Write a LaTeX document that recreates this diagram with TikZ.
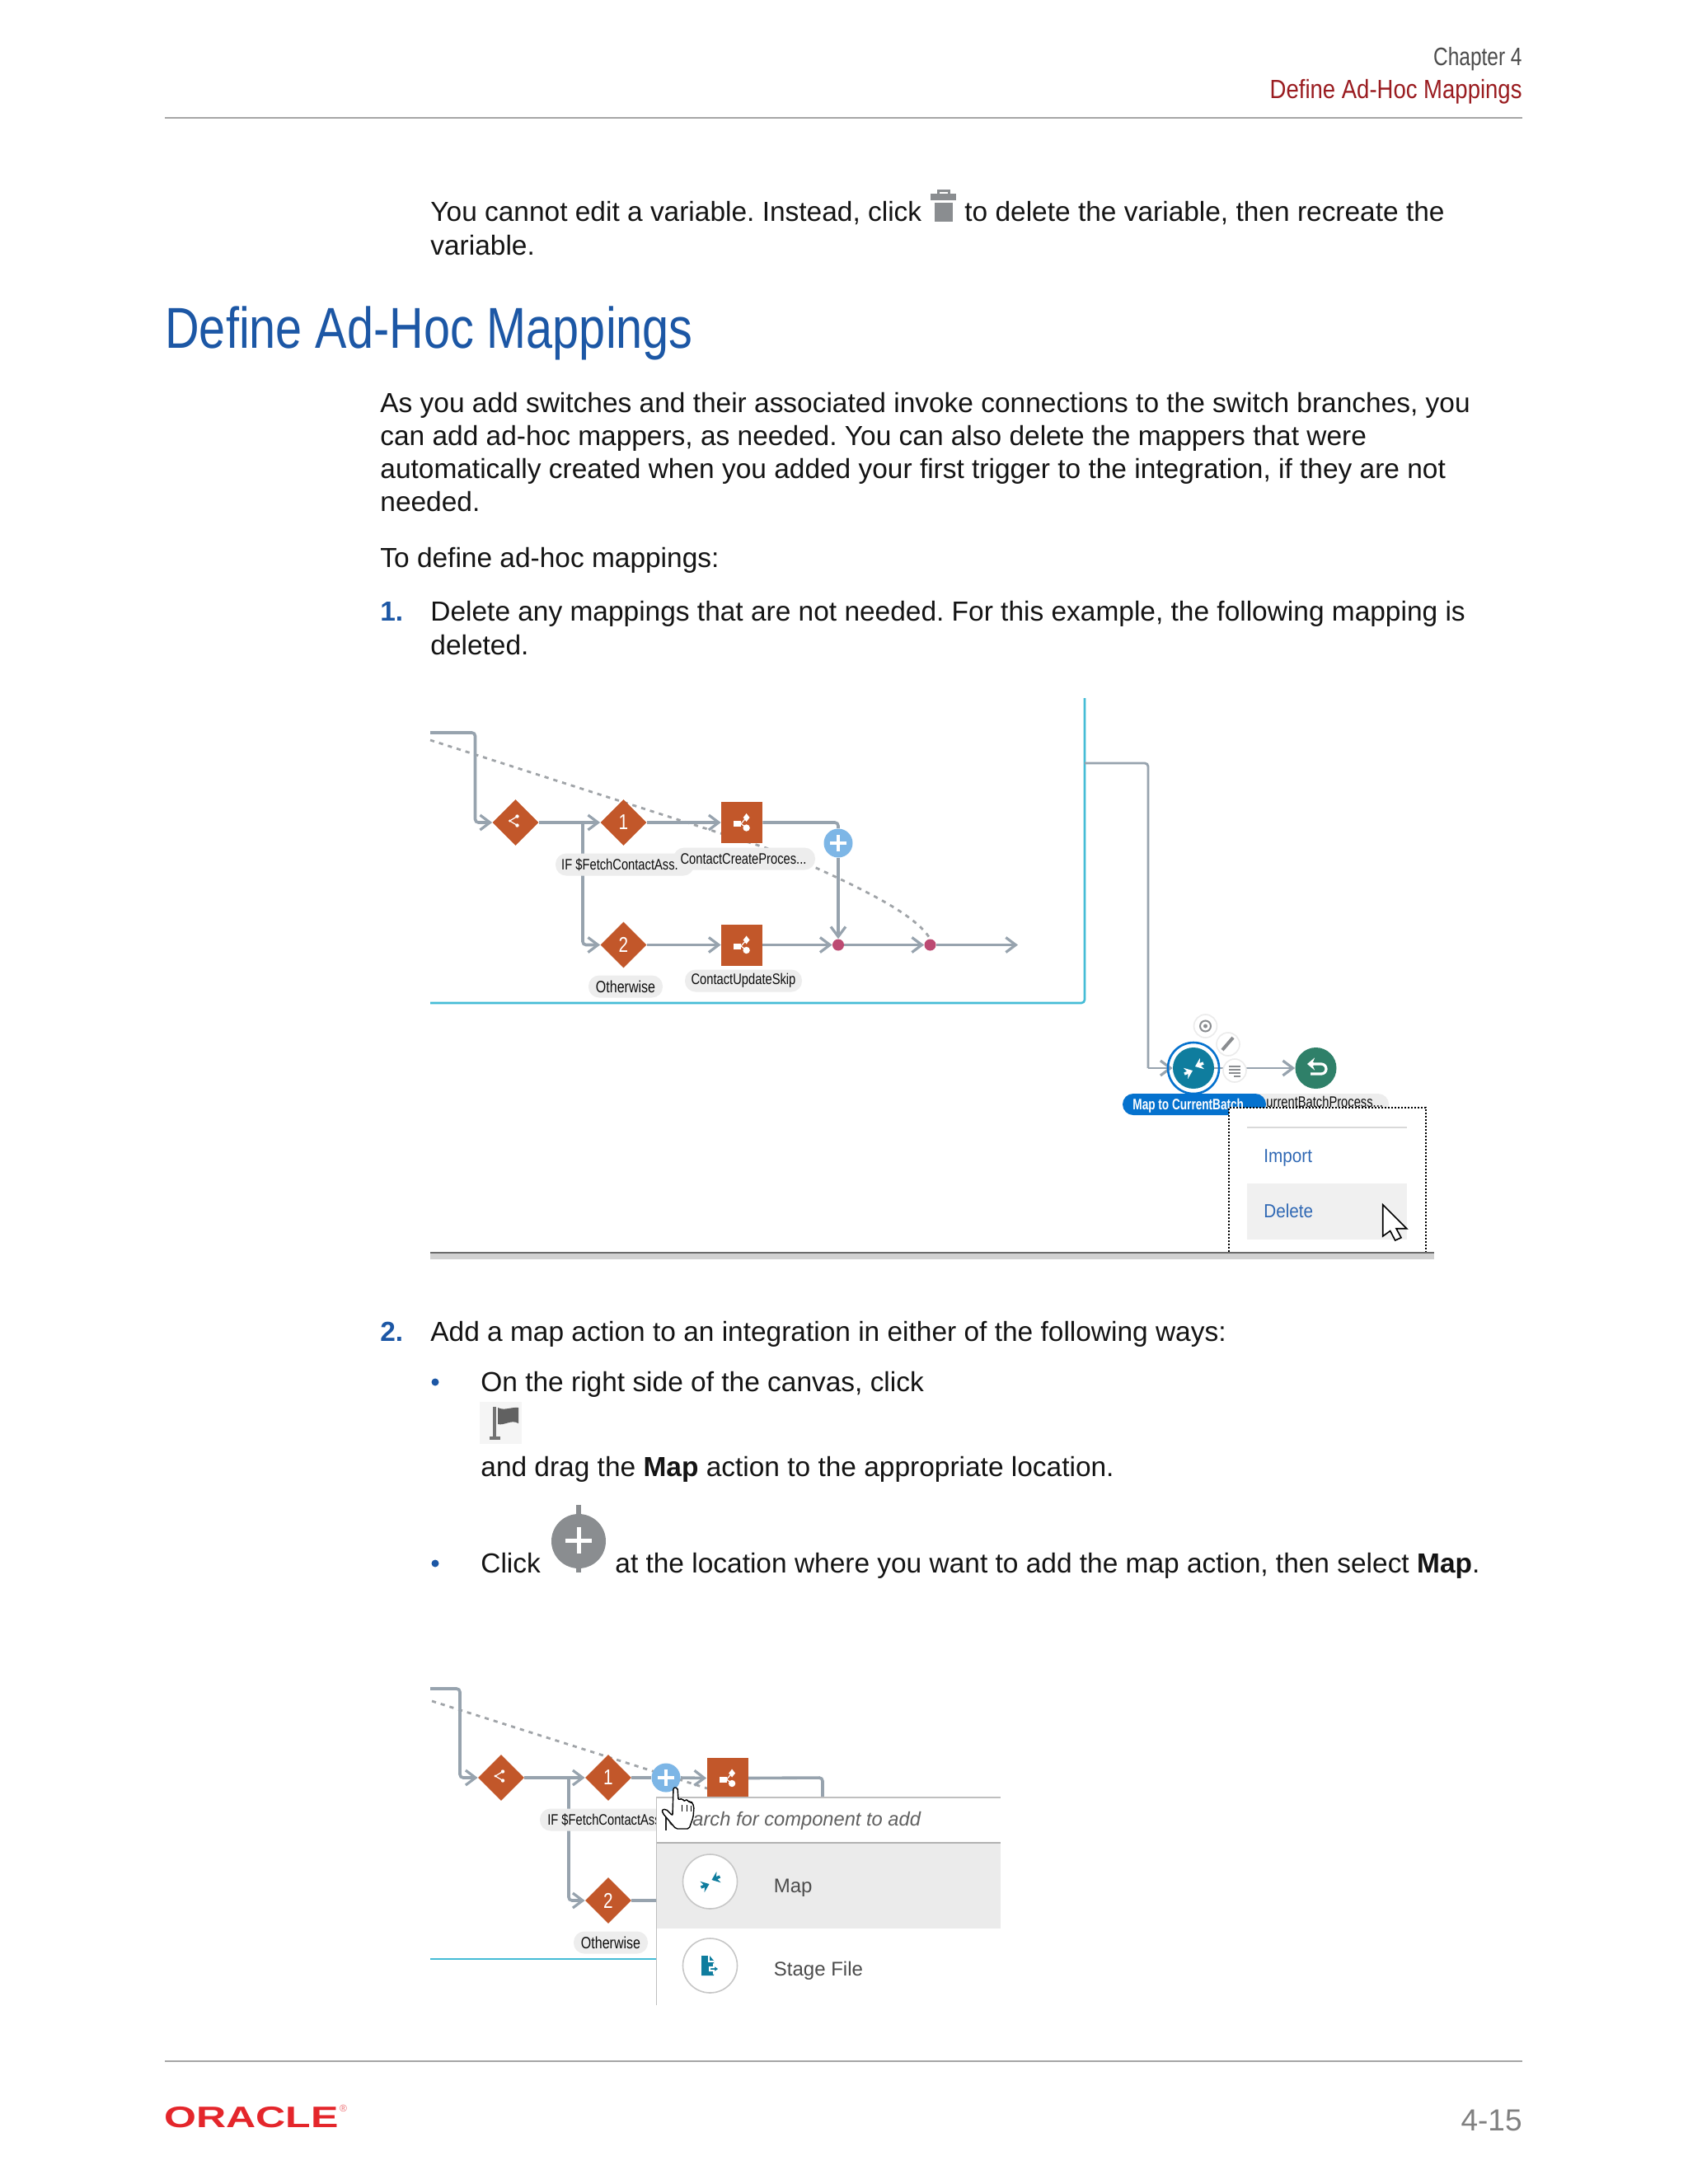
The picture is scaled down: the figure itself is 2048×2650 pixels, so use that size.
\documentclass[tikz,border=0pt]{standalone}
\usepackage{fontspec}
\setmainfont{Liberation Sans}
\newfontfamily\nf[FakeStretch=0.8]{Liberation Sans}
\newfontfamily\nfb[FakeStretch=0.74]{Liberation Sans Bold}
\newfontfamily\hf[FakeStretch=0.86]{Liberation Sans}
\newfontfamily\hg[FakeStretch=0.823]{Liberation Sans}
\newfontfamily\mf[FakeStretch=0.9]{Liberation Sans}
\newfontfamily\logof[FakeStretch=1.39]{Liberation Sans}
\usetikzlibrary{shapes.geometric,arrows.meta}
\pgfdeclarelayer{conn}
\pgfsetlayers{conn,main}
\definecolor{orangeN}{HTML}{C2572A}
\definecolor{lineG}{HTML}{97A3AE}
\definecolor{dashG}{HTML}{A0A4A8}
\definecolor{cyanL}{HTML}{45BCD6}
\definecolor{plusB}{HTML}{7DB6E6}
\definecolor{dotR}{HTML}{BC4A72}
\definecolor{pillG}{HTML}{EDEDED}
\definecolor{blueH}{HTML}{1C57A5}
\definecolor{blueP}{HTML}{0572CE}
\definecolor{tealM}{HTML}{0F7D9E}
\definecolor{greenR}{HTML}{2F8069}
\definecolor{iconG}{HTML}{8A8D90}
\definecolor{maroonH}{HTML}{9A1C20}
\definecolor{redO}{HTML}{E4262B}
\definecolor{menuB}{HTML}{2F68B4}
\tikzset{
 bodyt/.style={inner sep=0pt,anchor=base west,text=black!92,font=\fontsize{16.73pt}{20pt}\selectfont\frenchspacing},
 numt/.style={inner sep=0pt,anchor=base west,text=blueH,font=\fontsize{16.7pt}{20pt}\selectfont\bfseries},
 diam/.style={diamond,aspect=1,fill=orangeN,minimum width=28pt,minimum height=28pt,inner sep=0pt,text=white,font=\nf\fontsize{13pt}{13pt}\selectfont},
 sq/.style={rectangle,fill=orangeN,minimum width=25pt,minimum height=25pt,inner sep=0pt},
 plusc/.style={circle,fill=plusB,minimum size=17.5pt,inner sep=0pt},
 dotn/.style={circle,fill=dotR,minimum size=7pt,inner sep=0pt},
 pill/.style={rectangle,rounded corners=6.5pt,fill=pillG,minimum height=13.5pt,inner sep=0pt},
 lbl/.style={inner sep=0pt,text=black!95,font=\nf\fontsize{9.2pt}{9.2pt}\selectfont},
 conn/.style={draw=lineG,line width=1.8pt,rounded corners=2pt},
 arr/.style={-{Straight Barb[length=6pt,width=9pt,line width=1.6pt]}},
 dashl/.style={draw=dashG,line width=1.4pt,dash pattern=on 2.6pt off 3pt},
 cyanl/.style={draw=cyanL,line width=1.3pt,rounded corners=2pt},
 smallc/.style={circle,fill=white,draw=black!8,line width=.8pt,minimum size=14pt,inner sep=0pt},
 icc/.style={circle,fill=white,draw=black!22,line width=.8pt,minimum size=33pt,inner sep=0pt},
 menut/.style={inner sep=0pt,anchor=base west,text=menuB,font=\mf\fontsize{11.5pt}{12pt}\selectfont},
 popt/.style={inner sep=0pt,anchor=base west,text=black!70,font=\fontsize{12pt}{12pt}\selectfont},
 branchicon/.pic={
  \fill[white] (-9.7,-2) rectangle (-1,5);
  \fill[white] (5.6,-11) -- (9.5,-6) -- (5.6,-1) -- (1.7,-6) -- cycle;
  \fill[white] (5.6,6.5) circle (4.2);
  \draw[white,line width=.6pt] (-1,1.5) -- (5.6,-6) (-1,1.5) -- (5.6,6.5);
 },
 switchicon/.pic={
  \fill[white] (2,-7.5) circle (2.2) (2,3.5) circle (2.2) (-7,-2) circle (1.6);
  \draw[white,line width=.6pt] (-7,-2) -- (2,-7.5) (-7,-2) -- (2,3.5);
 },
 plusicon/.pic={
  \draw[white,line width=2pt] (-10,0) -- (10,0) (0,-10) -- (0,10);
 },
 mapicon/.pic={
  \draw[pic actions,line width=1.7pt,-{Stealth[length=4.5pt,width=7pt]}] (-11,7) -- (-1,3);
  \draw[pic actions,line width=1.7pt,-{Stealth[length=4.5pt,width=7pt]}] (12,-6) -- (2,-2);
 }
}
\begin{document}
\begin{tikzpicture}[x=0.5pt,y=-0.5pt]
\path[use as bounding box] (0,0) rectangle (2048,2650);
\begin{pgfonlayer}{conn}
\fill[white] (0,0) rectangle (2048,2650);
\end{pgfonlayer}
% header
\node[inner sep=0pt,anchor=base east,text=black!70,font=\nf\fontsize{15.3pt}{16pt}\selectfont] (hd1) at (1847,79) {Chapter 4};
\node[inner sep=0pt,anchor=base east,text=maroonH,font=\hf\fontsize{16pt}{18pt}\selectfont] (hd2) at (1847,119) {Define Ad-Hoc Mappings};
\draw[black!35,line width=1pt] (200,143) -- (1847,143);
% intro
\node[bodyt] (t1a) at (522,268.5) {You cannot edit a variable. Instead, click};
\node[bodyt] (t1b) at (1170,268.5) {to delete the variable, then recreate the};
\node[bodyt] (t1c) at (522,309.5) {variable.};
\fill[iconG] (1134,246) rectangle (1156,269);
\fill[iconG] (1129,235) rectangle (1160,243);
\draw[iconG,line width=1.5pt] (1138,235) -- (1138,231) -- (1151,231) -- (1151,235);
% heading
\node[inner sep=0pt,anchor=base west,text=blueH,font=\hg\fontsize{35pt}{40pt}\selectfont] (h1) at (200,422) {Define Ad-Hoc Mappings};
\node[bodyt] (p1) at (461,500) {As you add switches and their associated invoke connections to the switch branches, you};
\node[bodyt] (p2) at (461,540) {can add ad-hoc mappers, as needed. You can also delete the mappers that were};
\node[bodyt] (p3) at (461,580) {automatically created when you added your first trigger to the integration, if they are not};
\node[bodyt] (p4) at (461,620) {needed.};
\node[bodyt] (p5) at (461,688) {To define ad-hoc mappings:};
\node[numt] (n1) at (461,753.5) {1.};
\node[bodyt] (s1a) at (522,753.5) {Delete any mappings that are not needed. For this example, the following mapping is};
\node[bodyt] (s1b) at (522,794) {deleted.};

%%%%% diagram 1
\node[diam] (d0) at (625.5,998) {};
\pic at (625.5,998) {switchicon};
\node[diam] (d1) at (756.5,998) {1};
\node[diam] (d2) at (756.5,1146.5) {2};
\node[sq] (s1) at (900,998) {};
\pic at (900,998) {branchicon};
\node[sq] (s2) at (900,1146.5) {};
\pic at (900,1146.5) {branchicon};
\node[plusc] (plus1) at (1017,1023) {};
\pic at (1017,1023) {plusicon};
\node[dotn] (dot1) at (1017,1146.5) {};
\node[dotn] (dot2) at (1128.5,1146.5) {};
\node[pill,minimum width=84pt] (pA) at (758,1049) {};
\node[lbl] (tA) at (752,1049) {IF \$FetchContactAss.};
\node[pill,minimum width=86pt] (pB) at (903,1042) {};
\node[lbl] (tB) at (902,1042) {ContactCreateProces...};
\node[pill,minimum width=45pt] (pC) at (759,1197) {};
\node[lbl,font=\nf\fontsize{10pt}{10pt}\selectfont] (tC) at (759,1197) {Otherwise};
\node[pill,minimum width=71pt] (pD) at (902,1190) {};
\node[lbl] (tD) at (902,1190) {ContactUpdateSkip};
\coordinate (c0) at (522,889);
\coordinate (c1) at (576.5,889);
\coordinate (c2) at (576.5,998);
\coordinate (j1) at (707,998);
\coordinate (k1) at (1017,998);
\coordinate (e1) at (1235,1146.5);
\coordinate (ds) at (522,898);
\coordinate (dm) at (930,1029);
\coordinate (dn) at (990,1053);
\coordinate (cy0) at (522,1217);
\coordinate (cy1) at (1316,1217);
\coordinate (cy2) at (1316,847);
\coordinate (r0) at (1316,926);
\coordinate (r1) at (1393,926);
\coordinate (r2) at (1393,1296);
\begin{pgfonlayer}{conn}
\draw[dashl] (ds) -- (dm) -- (dn) .. controls (1060,1085) and (1112,1112) .. (dot2.north);
\draw[conn,arr] (c0) -- (c1) -- (c2) -- (d0.west);
\draw[conn,arr] (d0.east) -- (d1.west);
\draw[conn,arr] (j1) -- (j1 |- d2) -- (d2.west);
\draw[conn,arr] (d1.east) -- (s1.west);
\draw[conn] (s1.east) -- (k1) -- (plus1.north);
\draw[conn,arr] (plus1.south) -- (dot1.north);
\draw[conn,arr] (d2.east) -- (s2.west);
\draw[conn,arr] (s2.east) -- (dot1.west);
\draw[conn,arr] (dot1.east) -- (dot2.west);
\draw[conn,arr] (dot2.east) -- (e1);
\draw[cyanl] (cy0) -- (cy1) -- (cy2);
\end{pgfonlayer}
% map + return
\node[circle,fill=tealM,minimum size=25pt,inner sep=0pt] (mp) at (1448,1296) {};
\draw[blueP,line width=1.3pt] (mp) circle (31);
\pic[white] at (1448,1296) {mapicon};
\node[circle,fill=greenR,minimum size=25pt,inner sep=0pt] (rt) at (1596.5,1296) {};
\draw[white,line width=1.6pt,rounded corners=3pt] (1590,1291) -- (1609,1291) -- (1609,1303) -- (1590,1303);
\draw[white,line width=1.6pt,-{Stealth[length=4.5pt,width=7.5pt]}] (1594,1291) -- (1586,1291);
\node[smallc] (ic1) at (1462.5,1245) {};
\draw[iconG,line width=1pt] (ic1) circle (6.5);
\fill[iconG] (ic1) circle (2.5);
\node[smallc] (ic2) at (1490,1267) {};
\draw[iconG,line width=2pt] (1483,1274) -- (1496,1259);
\node[smallc] (ic3) at (1498,1299) {};
\draw[iconG,line width=.9pt] (1491,1294) -- (1505,1294) (1491,1298) -- (1505,1298) (1491,1302) -- (1505,1302) (1497,1306) -- (1505,1306);
\begin{pgfonlayer}{conn}
\draw[conn,line width=1.4pt] (r0) -- (r1) -- (r2);
\draw[conn,line width=1.4pt,arr] (r2) -- (mp.west);
\draw[conn,line width=1.4pt,arr] (mp.east) -- (rt.west);
\end{pgfonlayer}
\node[rectangle,rounded corners=6.5pt,fill=pillG,minimum width=90pt,minimum height=13pt,inner sep=0pt] (pE) at (1595,1340) {};
\node[inner sep=0pt,anchor=base west,text=black!95,font=\nf\fontsize{9.2pt}{9.2pt}\selectfont] (tE) at (1536,1343) {urrentBatchProcess...};
\node[rectangle,rounded corners=6.5pt,fill=blueP,minimum width=87pt,minimum height=13pt,inner sep=0pt] (pF) at (1449,1340) {};
\node[inner sep=0pt,anchor=base west,text=white,font=\nfb\fontsize{9.2pt}{9.2pt}\selectfont] (tF) at (1374,1346) {Map to CurrentBatch};
% menu
\draw[black,fill=white,line width=1pt,dash pattern=on 1pt off 1pt] (1491,1519) -- (1491,1344) -- (1730,1344) -- (1730,1519);
\draw[black!15,line width=1pt] (1513,1368) -- (1707,1368);
\fill[black!6] (1513,1436) rectangle (1707,1504);
\node[menut] (mI) at (1533,1410) {Import};
\node[menut] (mD) at (1533,1477) {Delete};
\draw[black,fill=white,line width=.8pt,line join=miter] (1677.7,1461.7) -- (1677.7,1500) -- (1686.7,1493.5) -- (1692.7,1505) -- (1700,1501.7) -- (1694,1490.7) -- (1706.7,1490.7) -- cycle;
\fill[black!18] (522,1520) rectangle (1740,1528);
\draw[black!58,line width=1.2pt] (522,1520) -- (1740,1520);

%%%%% step 2
\node[numt] (n2) at (461,1627.5) {2.};
\node[bodyt] (s2a) at (522,1627.5) {Add a map action to an integration in either of the following ways:};
\fill[blueH] (528,1677) circle (4.5);
\node[bodyt] (b1a) at (583,1688) {On the right side of the canvas, click};
\fill[black!4] (582,1701) rectangle (633,1752);
\fill[black!55] (598,1707) rectangle (602,1745);
\fill[black!55] (594,1743) rectangle (607,1747);
\fill[black!62] (604,1708) .. controls (612,1712) and (620,1707) .. (629,1708) -- (629,1727) .. controls (620,1722) and (612,1730) .. (604,1728) -- cycle;
\node[bodyt] (b1b) at (583,1791.5) {and drag the \textbf{Map} action to the appropriate location.};
\fill[blueH] (528,1897) circle (4.5);
\node[bodyt] (b2a) at (583,1908) {Click};
\fill[iconG] (699,1826) rectangle (705,1908);
\fill[iconG] (702,1870) circle (33);
\draw[white,line width=2.5pt] (686,1869) -- (718,1869) (702,1853) -- (702,1885);
\node[bodyt] (b2b) at (746,1908) {at the location where you want to add the map action, then select \textbf{Map}.};

%%%%% diagram 2
\node[diam] (e0) at (608,2157) {};
\pic at (608,2157) {switchicon};
\node[diam] (e1n) at (738,2157) {1};
\node[diam] (e2n) at (738,2306) {2};
\node[plusc] (plus2) at (808,2157) {};
\pic at (808,2157) {plusicon};
\node[sq] (s3) at (882.5,2157.5) {};
\pic at (882.5,2157.5) {branchicon};
\node[pill,minimum width=84pt] (pG) at (739,2208) {};
\node[lbl] (tG) at (733,2208) {IF \$FetchContactAss};
\node[pill,minimum width=45pt] (pH) at (741,2357) {};
\node[lbl,font=\nf\fontsize{10pt}{10pt}\selectfont] (tH) at (741,2357) {Otherwise};
\coordinate (f0) at (522,2049);
\coordinate (f1) at (558,2049);
\coordinate (f2) at (558,2157);
\coordinate (j2) at (690,2157);
\coordinate (k2) at (998,2157);
\coordinate (k3) at (998,2190);
\coordinate (h0) at (850,2306);
\coordinate (g0) at (524,2064);
\coordinate (g1) at (858,2170);
\coordinate (cy3) at (522,2377);
\coordinate (cy4) at (820,2377);
\begin{pgfonlayer}{conn}
\draw[dashl] (g0) -- (g1);
\draw[conn,arr] (f0) -- (f1) -- (f2) -- (e0.west);
\draw[conn,arr] (e0.east) -- (e1n.west);
\draw[conn,arr] (j2) -- (j2 |- e2n) -- (e2n.west);
\draw[conn] (e1n.east) -- (plus2.west);
\draw[conn,arr] (plus2.east) -- (s3.west);
\draw[conn] (s3.east) -- (k2) -- (k3);
\draw[conn] (e2n.east) -- (h0);
\draw[cyanl] (cy3) -- (cy4);
\end{pgfonlayer}
% popup
\fill[white] (796.5,2180) rectangle (1213.5,2433);
\fill[black!8] (796.5,2237) rectangle (1213.5,2340);
\draw[black!25,line width=.8pt] (1213.5,2181) -- (796.5,2181) -- (796.5,2433);
\draw[black!30,line width=.9pt] (796.5,2236) -- (1213.5,2236);
\node[popt,text=black!62,font=\itshape\fontsize{11.85pt}{13pt}\selectfont] (sr) at (811,2215) {Search for component to add};
\node[icc] (ic4) at (861.5,2283) {};
\pic[tealM] at (861.5,2283) {mapicon};
\node[popt] (mMap) at (938.5,2296) {Map};
\node[icc] (ic5) at (861.5,2385) {};
\fill[tealM] (851,2373) -- (861,2373) -- (866,2379) -- (866,2397) -- (851,2397) -- cycle;
\draw[white,line width=.8pt] (860,2373) -- (860,2380) -- (866,2380);
\draw[white,line width=1pt,fill=tealM] (861,2387) -- (866,2387) -- (866,2384) -- (873,2389) -- (866,2394) -- (866,2391) -- (861,2391) -- cycle;
\node[popt] (mSt) at (938.5,2397) {Stage File};
% hand
\draw[black!85,line width=.6pt] (808,2200) -- (808,2221);
\draw[black,fill=white,line width=.7pt,rounded corners=1pt] (817,2169) -- (822,2169) -- (823,2184) -- (828,2182) -- (830,2186) -- (833,2183) -- (836,2187) -- (839,2186) -- (842,2192) -- (841,2205) -- (836,2219) -- (820,2219) -- (804,2200) -- (803,2196) -- (808,2195) -- (816,2203) -- cycle;
\draw[black,line width=.4pt] (827,2190) -- (827,2198) (833,2190) -- (833,2198) (838,2191) -- (838,2198);

%%%%% footer
\draw[black!35,line width=1pt] (200,2500.5) -- (1847,2500.5);
\node[inner sep=0pt,anchor=base west,text=redO,font=\logof\bfseries\fontsize{18pt}{18pt}\selectfont] (lg) at (199,2581) {ORACLE};
\node[inner sep=0pt,text=redO!70,font=\fontsize{6pt}{6pt}\selectfont] (reg) at (416.5,2558) {®};
\node[inner sep=0pt,anchor=base east,text=black!50,font=\fontsize{18.5pt}{20pt}\selectfont] (pg) at (1847,2585) {4-15};
\end{tikzpicture}
\end{document}
